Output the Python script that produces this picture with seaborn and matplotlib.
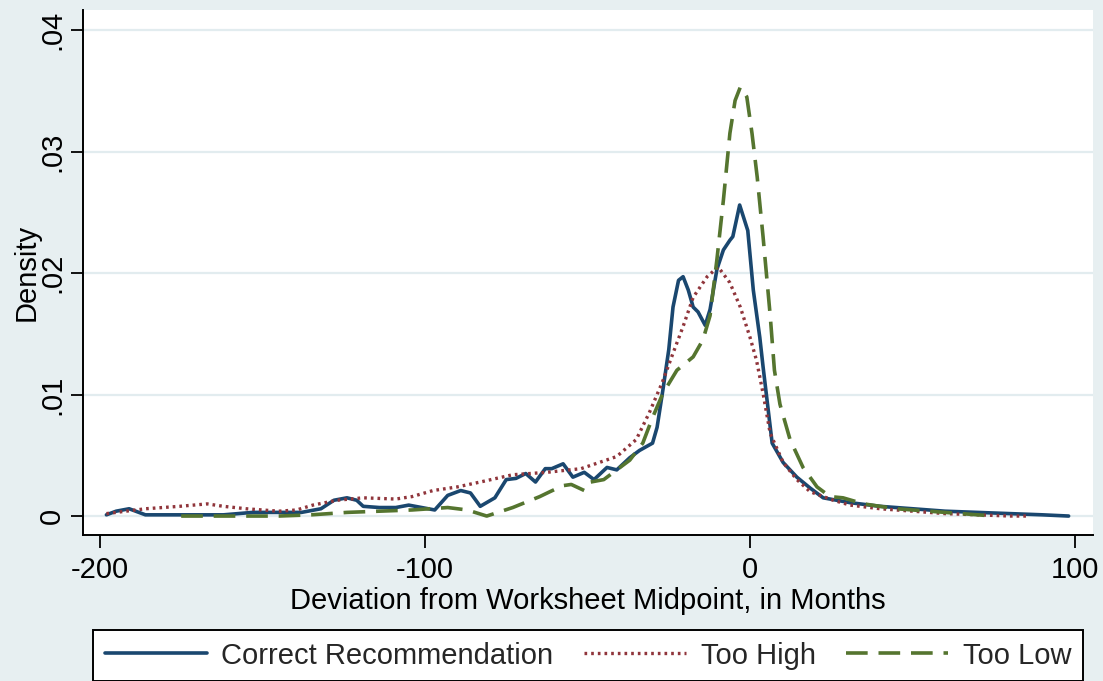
import numpy as np
import pandas as pd
import matplotlib
matplotlib.use("Agg")
import matplotlib.pyplot as plt
import seaborn as sns

# kernel density curves (x in months, y density)
correct_x = [-198, -195, -191, -186, -175, -162, -153, -138, -132, -128, -124, -121, -119,
             -114, -109, -105, -101, -97, -93, -89, -86, -83, -78.5, -75, -72, -69, -66,
             -63, -61, -57.5, -54.5, -51, -48, -44, -41, -37, -34, -30, -28.6, -26.8, -25,
             -23.7, -22, -20.6, -19, -17.5, -16, -13.8, -12.3, -10.2, -8.2, -6.2, -5.3,
             -3.2, -0.7, 1, 3, 4, 6.8, 10.2, 14.4, 18.5, 22.5, 30.8, 40, 50, 60, 70, 80, 90, 98]
correct_y = [.0001, .0004, .0006, .0001, .0001, .0001, .0003, .0003, .0006, .0013, .0015, .0013, .0008,
             .0007, .0007, .0009, .0007, .0005, .0017, .0021, .0019, .0008, .0015, .0030, .0031, .0035, .0028,
             .0039, .0039, .0043, .0032, .0036, .0030, .0040, .0038, .0048, .0054, .0060, .0073, .0104, .0137,
             .0172, .0194, .0197, .0186, .0172, .0168, .0157, .0170, .0203, .0219, .0227, .0230,
             .0256, .0235, .0186, .0147, .0123, .0060, .0044, .0032, .0023, .0015, .0011, .0008, .0006, .0004,
             .0003, .0002, .0001, .0000]

high_x = [-198, -192, -186, -175.5, -167, -162, -155, -145, -139.5, -134.5, -127, -119, -109, -104,
          -97.5, -90, -83, -73, -62.5, -52, -41, -35, -31, -27, -23.7, -20.6, -17.5, -13.2, -9.8,
          -6.2, -3, 0, 2, 4, 6.2, 10.2, 14.4, 18.5, 25.6, 30.8, 40, 50, 60, 70, 80, 85]
high_y = [.0002, .0004, .0006, .0008, .0010, .0008, .0006, .0004, .0005, .0009, .0013, .0015, .0014, .0016,
          .0021, .0024, .0028, .0034, .0036, .0039, .0049, .0063, .0085, .0110, .0134, .0156, .0180, .0197, .0205,
          .0192, .0172, .0147, .0128, .0101, .0068, .0044, .0030, .0020, .0013, .0009, .0006, .0004, .0002,
          .0001, .0000, .0000]

low_x = [-175, -160, -145, -135, -124, -114, -104, -93, -87, -81, -73, -64.7, -61.6, -57.6, -55, -51,
         -49, -45, -41, -37, -33, -30, -26.8, -22.5, -17.5, -14.5, -12.3, -10.2, -8.2, -6.2, -4.6, -3,
         -1, 0.6, 2.2, 4, 6.2, 7.5, 9.2, 12.3, 16.3, 20.6, 24.6, 28.6, 35, 45, 55, 65, 75]
low_y = [.0000, .0000, .0000, .0001, .0003, .0004, .0005, .0007, .0005, .0000, .0007, .0016, .0020, .0025,
         .0026, .0021, .0028, .0030, .0038, .0046, .0060, .0081, .0101, .0120, .0131, .0145, .0165, .0211,
         .0260, .0315, .0342, .0353, .0345, .0315, .0279, .0230, .0165, .0120, .0092, .0063, .0040, .0024,
         .0016, .0015, .0010, .0006, .0004, .0002, .0000]

x_ticks = [-200, -100, 0, 100]
x_ticklabels = ["-200", "-100", "0", "100"]
y_ticks = [0, .01, .02, .03, .04]
y_ticklabels = ["0", ".01", ".02", ".03", ".04"]

bg = "#e7eff1"
sns.set_theme(style="white")
plt.rcParams["font.family"] = ["Liberation Sans", "DejaVu Sans"]

fig = plt.figure(figsize=(11.03, 6.81), dpi=100, facecolor=bg)
ax = fig.add_axes([83 / 1103, 1 - 535 / 681, 1010 / 1103, 525 / 681])
ax.set_facecolor("white")

sns.lineplot(x=correct_x, y=correct_y, ax=ax, color="#1a476f", lw=2.6,
             label="Correct Recommendation", sort=False)
sns.lineplot(x=high_x, y=high_y, ax=ax, color="#90353b", lw=2.4,
             label="Too High", sort=False)
sns.lineplot(x=low_x, y=low_y, ax=ax, color="#55752f", lw=2.6,
             label="Too Low", sort=False)
ax.lines[1].set_linestyle((0, (0.8, 1.2)))
ax.lines[2].set_linestyle((0, (6, 3)))

ax.set_xlim(-205.2, 105.5)
ax.set_ylim(-0.00156, 0.04165)
ax.set_xticks(x_ticks, x_ticklabels)
ax.set_yticks(y_ticks, y_ticklabels)
ax.yaxis.grid(True, color="#e2ecef", lw=1.6)
ax.set_axisbelow(True)
for s in ["top", "right"]:
    ax.spines[s].set_visible(False)
for s in ["left", "bottom"]:
    ax.spines[s].set_color("black")
    ax.spines[s].set_linewidth(1.4)
ax.tick_params(axis="both", direction="out", length=9, width=1.3, color="black",
               labelsize=21, labelcolor="black", left=True, bottom=True)
ax.tick_params(axis="x", pad=6)
ax.tick_params(axis="y", pad=3)
for t in ax.get_yticklabels():
    t.set_rotation(90)
    t.set_va("center")

ax.set_xlabel("Deviation from Worksheet Midpoint, in Months", fontsize=21, color="black", labelpad=2)
ax.set_ylabel("Density", fontsize=21, color="black")
ax.yaxis.set_label_coords(-0.042, 0.5)

handles, labels = ax.get_legend_handles_labels()
ax.get_legend().remove()
leg = fig.legend(handles, labels, loc="upper left",
                 bbox_to_anchor=(93 / 1103, 1 - 630 / 681, 990 / 1103, 0),
                 mode="expand", ncol=3, fontsize=21, frameon=True, fancybox=False,
                 edgecolor="black", handlelength=3.5, handletextpad=0.5,
                 borderaxespad=0, borderpad=0.4)
leg.get_frame().set_linewidth(1.4)
leg.get_frame().set_facecolor("white")
leg.get_frame().set_alpha(1)

fig.savefig("out.png", dpi=100, facecolor=bg)
